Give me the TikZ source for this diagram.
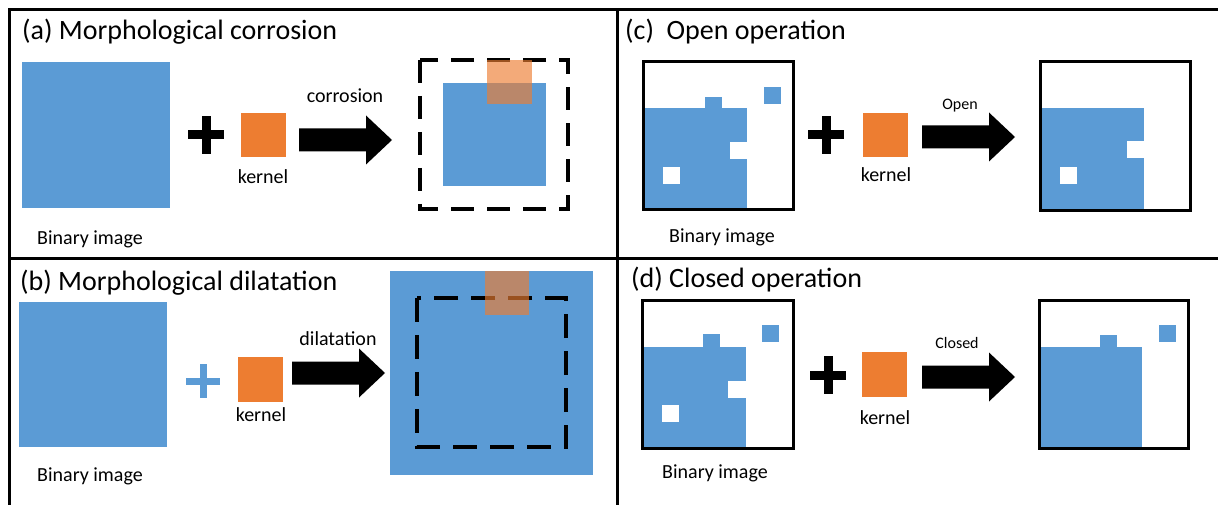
\documentclass[tikz,border=0pt]{standalone}
\usepackage{fontspec}
\setmainfont{Carlito}
\definecolor{mblue}{HTML}{5B9BD5}
\definecolor{morange}{HTML}{ED7D31}
\tikzset{
  titletext/.style={anchor=base west, inner sep=0pt, font=\fontsize{28}{32}\selectfont},
  lbl/.style={anchor=base, inner sep=0pt, font=\fontsize{20}{24}\selectfont},
  smalllbl/.style={anchor=base, inner sep=0pt, font=\fontsize{16}{19}\selectfont},
  bluefill/.style={fill=mblue},
  kernfill/.style={fill=morange},
  overlayfill/.style={fill=morange, fill opacity=0.65},
  framebox/.style={draw=black, line width=3pt},
  dashbox/.style={draw=black, line width=4pt, dash pattern=on 23pt off 13pt},
  panelline/.style={draw=black, line width=3pt},
  blockarrow/.pic={\fill[black] (0,-11.5) -- (67,-11.5) -- (67,-24.5) -- (93,0) -- (67,24.5) -- (67,11.5) -- (0,11.5) -- cycle;},
  plussign/.pic={\fill (-18,-4.5) rectangle (18,4.5); \fill (-4.5,-19) rectangle (4.5,19);},
  thinplus/.pic={\fill (-17,-3.5) rectangle (17,3.5); \fill (-3.5,-17) rectangle (3.5,17);}
}
\begin{document}
\begin{tikzpicture}[x=1pt,y=-1pt]
\useasboundingbox (0,0) rectangle (1218,505);
% panel frame
\draw[panelline] (1218,10) -- (9,10) -- (9,505);
\draw[panelline] (617,10) -- (617,505);
\draw[panelline] (9,258) -- (1218,258);

% ---------- (a) ----------
\node[titletext] (ta) at (22,40) {(a) Morphological corrosion};
\fill[bluefill] (22,62) rectangle (170,208);
\node[lbl] (bia) at (90,244) {Binary image};
\pic[black] at (206,135) {plussign};
\fill[kernfill] (241,113) rectangle (286,157);
\node[lbl] (ka) at (263,184) {kernel};
\pic at (299,140) {blockarrow};
\node[lbl] (ca) at (345,103) {corrosion};
\fill[bluefill] (443,83) rectangle (546,186);
\draw[dashbox] (420,60) rectangle (568,209);
\fill[overlayfill] (487,60) rectangle (532,104);

% ---------- (b) ----------
\node[titletext] (tb) at (20,290) {(b) Morphological dilatation};
\fill[bluefill] (19,302) rectangle (167,447);
\node[lbl] (bib) at (90,481) {Binary image};
\pic[mblue] at (203,381) {thinplus};
\fill[kernfill] (238,357) rectangle (283,402);
\node[lbl] (kb) at (261,421) {kernel};
\pic at (292,373) {blockarrow};
\node[lbl] (cb) at (338,345) {dilatation};
\fill[bluefill] (390,271) rectangle (593,475);
\draw[dashbox, line width=3.5pt, dash pattern=on 24pt off 13pt] (417,298) rectangle (566,447);
\fill[overlayfill] (485,271) rectangle (529,315);

% ---------- (c) ----------
\node[titletext] (tc) at (625,40) {(c)\ \ Open operation};
\fill[bluefill] (643,108) rectangle (747,210);
\fill[bluefill] (705,97) rectangle (722,108);
\fill[bluefill] (764,87) rectangle (781,104);
\fill[white] (730,142) rectangle (747,159);
\fill[white] (663,167) rectangle (680,184);
\draw[framebox] (643,62) rectangle (793,210);
\node[lbl] (bic) at (722,243) {Binary image};
\pic[black] at (826,135) {plussign};
\fill[kernfill] (863,113) rectangle (908,157);
\node[lbl] (kc) at (886,182) {kernel};
\pic at (922,137) {blockarrow};
\node[smalllbl] (oc) at (960,110) {Open};
\fill[bluefill] (1040,108) rectangle (1144,211);
\fill[white] (1127,141) rectangle (1144,158);
\fill[white] (1060,167) rectangle (1077,184);
\draw[framebox] (1040,62) rectangle (1190,211);

% ---------- (d) ----------
\node[titletext] (td) at (631,287) {(d) Closed operation};
\fill[bluefill] (642,347) rectangle (746,448);
\fill[bluefill] (703,334) rectangle (720,347);
\fill[bluefill] (762,325) rectangle (779,342);
\fill[white] (728,381) rectangle (746,398);
\fill[white] (662,405) rectangle (679,422);
\draw[framebox] (642,300) rectangle (793,448);
\node[lbl] (bid) at (715,478) {Binary image};
\pic[black] at (828,375) {plussign};
\fill[kernfill] (862,352) rectangle (907,397);
\node[lbl] (kd) at (885,424) {kernel};
\pic at (922,377) {blockarrow};
\node[smalllbl] (cd) at (957,348) {Closed};
\fill[bluefill] (1039,347) rectangle (1142,448);
\fill[bluefill] (1100,335) rectangle (1117,347);
\fill[bluefill] (1159,325) rectangle (1176,342);
\draw[framebox] (1039,300) rectangle (1188,448);
\end{tikzpicture}
\end{document}
